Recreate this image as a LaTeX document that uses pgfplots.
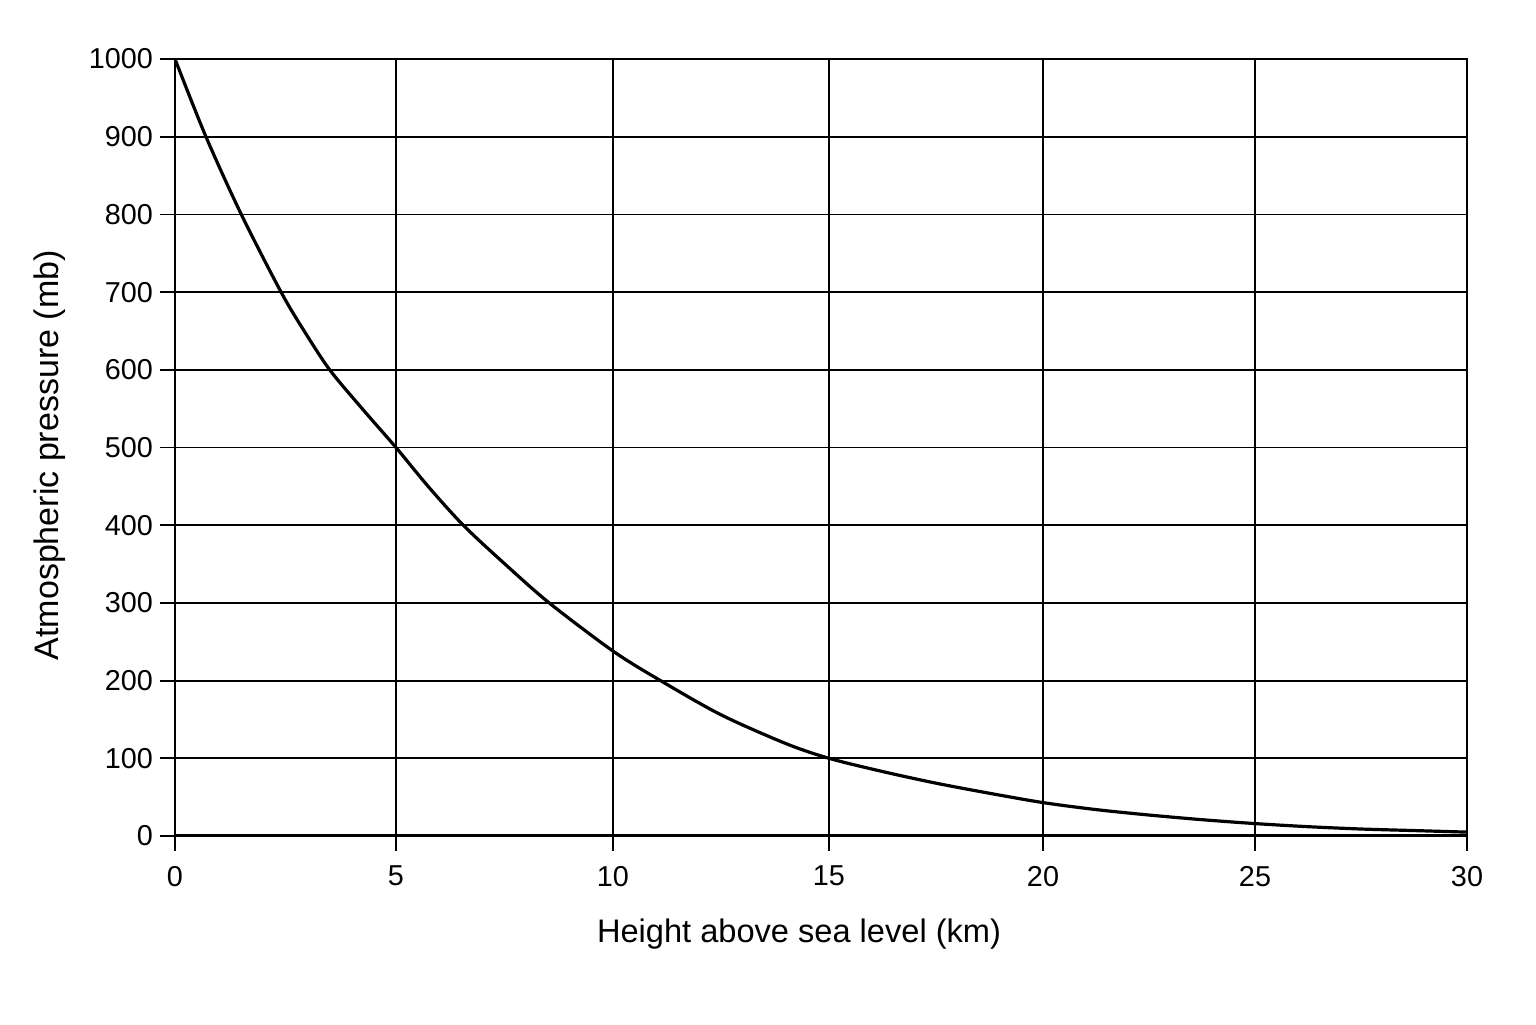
\documentclass[border=0pt]{standalone}
\usepackage{fontspec}
\setmainfont{Liberation Sans}
\usepackage{pgfplots}
\pgfplotsset{compat=1.18}
\begin{document}
\begin{tikzpicture}
\useasboundingbox (-87.5pt,-94pt) rectangle (680.5pt,418pt);
\begin{axis}[
  at={(0pt,0pt)}, anchor=south west,
  scale only axis, width=646pt, height=388.5pt,
  x coord trafo/.code={\pgfmathparse{1.02632*min(#1,5)+1.00774*max(min(#1,10)-5,0)+1.0031*max(min(#1,15)-10,0)+0.9938*max(min(#1,20)-15,0)+0.98452*max(#1-20,0)}},
  xmin=0, xmax=30, ymin=0, ymax=1000,
  xtick={0,5,10,15,20,25,30}, xticklabels={0,5,10,15,20,25,30},
  ytick={0,100,...,1000},
  xtick pos=bottom, ytick pos=left,
  scaled ticks=false,
  /pgf/number format/1000 sep={},
  /pgf/number format/assume math mode=true,
  grid=major, grid style={black, line width=0.9pt},
  axis line style={black, line width=0.9pt},
  tick style={black, line width=0.9pt},
  tick align=outside, major tick length=7.5pt,
  ticklabel style={font=\fontsize{14.4}{16}\selectfont},
  xticklabel style={yshift=-4pt},
  xlabel={Height above sea level (km)},
  ylabel={Atmospheric pressure (mb)},
  xlabel style={font=\fontsize{16.3}{19}\selectfont, at={(axis description cs:0.483,0)}, anchor=center, yshift=-49pt},
  ylabel style={font=\fontsize{17}{19}\selectfont, at={(axis description cs:-0.0967,0.49)}, anchor=center},
]
\draw[line width=1.7pt, black] (axis cs:0,0) -- (axis cs:30,0);
\draw[line width=1.3pt, black] (axis cs:0,0) -- (axis cs:0,1000);
\addplot[black, line width=1.6pt, smooth] coordinates {
(0,1000) (0.7,900) (1.5,800) (2.4,700) (2.9,652) (3.5,600) (4.25,549) (5,500)
(5.74,450) (6.55,400) (7.51,350) (8.53,300) (10,238) (11.1,200) (12.5,156)
(14,119) (15,100) (16.25,83) (17.5,68) (18.75,55) (20,43) (21.25,34)
(22.5,27) (23.75,21) (25,16) (26.25,12) (27.5,9) (28.75,7) (30,5)
};
\end{axis}
\end{tikzpicture}
\end{document}
